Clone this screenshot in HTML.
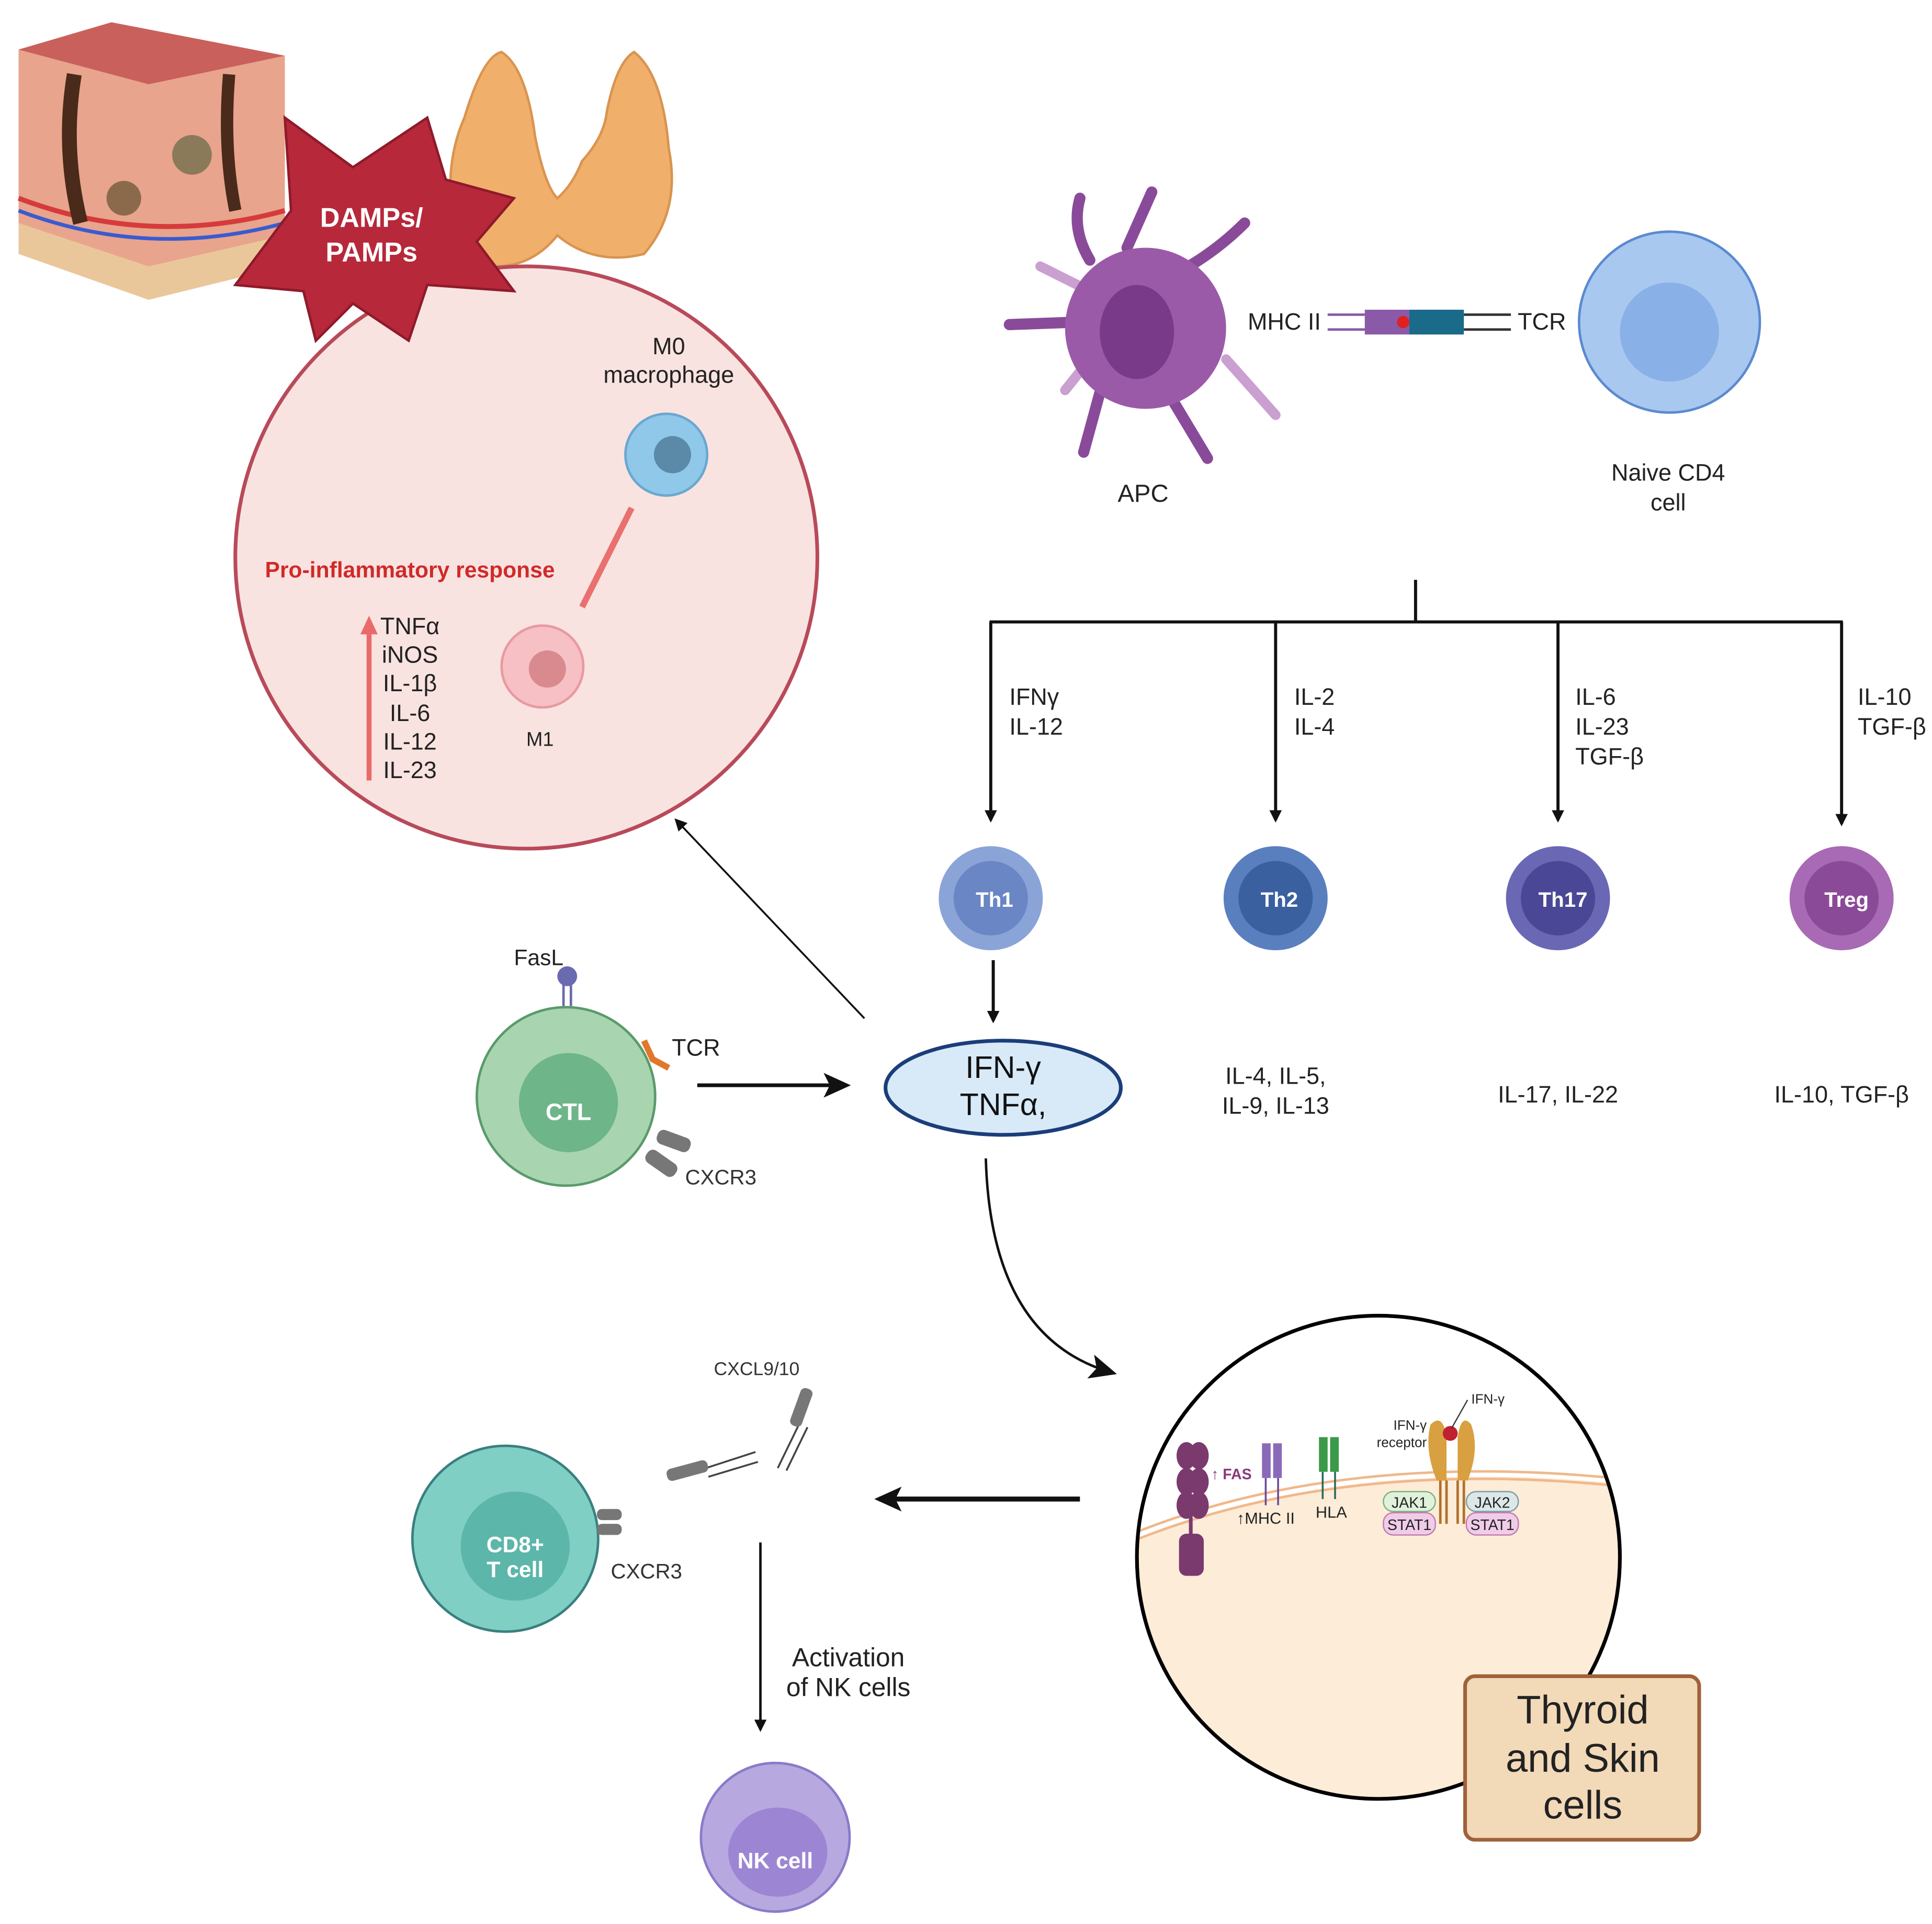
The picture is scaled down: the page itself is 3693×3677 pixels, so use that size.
<!DOCTYPE html>
<html><head><meta charset="utf-8"><style>
html,body{margin:0;padding:0;background:#fff}
svg{display:block}
text{font-family:"Liberation Sans",sans-serif}
</style></head><body>
<svg width="3693" height="3677" viewBox="0 0 1560 1553" preserveAspectRatio="none" xmlns="http://www.w3.org/2000/svg">
<defs>
<marker id="ah" markerWidth="10" markerHeight="10" refX="8" refY="5" orient="auto" markerUnits="userSpaceOnUse"><path d="M0,0 L10,5 L0,10 z" fill="#111"/></marker>
<marker id="ahb" markerWidth="22" markerHeight="20" refX="18" refY="10" orient="auto" markerUnits="userSpaceOnUse"><path d="M0,0 L22,10 L0,20 L5,10 z" fill="#111"/></marker>
<clipPath id="cc"><circle cx="1113" cy="1257" r="195"/></clipPath>
</defs>

<!-- skin block -->
<path d="M15,40 L90,18 L230,45 L230,215 L120,242 L15,205 z" fill="#eac79a"/>
<path d="M15,40 L90,18 L230,45 L230,190 L120,215 L15,180 z" fill="#e8a48d"/>
<path d="M15,40 L90,18 L230,45 L120,68 z" fill="#c9605c"/>
<path d="M15,160 Q120,200 230,170" stroke="#d63b3b" stroke-width="4" fill="none"/>
<path d="M15,170 Q120,210 230,180" stroke="#3a5bd0" stroke-width="3" fill="none"/>
<path d="M60,60 Q50,120 65,180" stroke="#4a2a1a" stroke-width="12" fill="none"/>
<path d="M185,60 Q180,120 190,170" stroke="#4a2a1a" stroke-width="10" fill="none"/>
<circle cx="100" cy="160" r="14" fill="#8a6a4a"/><circle cx="155" cy="125" r="16" fill="#8a7a5a"/>

<!-- thyroid -->
<path d="M370,200 Q355,140 375,95 Q390,45 405,42 Q425,55 432,110 Q440,150 450,160 Q462,150 470,130 Q488,110 490,90 Q498,50 512,42 Q535,60 540,120 Q550,170 520,205 Q480,215 450,190 Q430,215 400,215 Q380,212 370,200 z" fill="#f0b06c" stroke="#d99450" stroke-width="2"/>

<!-- big pink circle -->
<circle cx="425" cy="450" r="235" fill="#f9e3e0" stroke="#b84a5a" stroke-width="3"/>

<!-- star -->
<path d="M190,230 L235,170 L230,95 L285,135 L345,95 L360,145 L415,160 L385,195 L415,235 L345,230 L330,275 L285,245 L255,275 L245,235 z" fill="#b7283a" stroke="#8e1a2a" stroke-width="2"/>
<text x="300" y="183" font-size="22" font-weight="bold" fill="#fff" text-anchor="middle">DAMPs/</text>
<text x="300" y="211" font-size="22" font-weight="bold" fill="#fff" text-anchor="middle">PAMPs</text>

<text x="540" y="286" font-size="19" text-anchor="middle" fill="#222">M0</text>
<text x="540" y="309" font-size="19" text-anchor="middle" fill="#222">macrophage</text>
<circle cx="538" cy="367" r="33" fill="#8fc8e8" stroke="#6aa8d0" stroke-width="2"/>
<circle cx="543" cy="367" r="15" fill="#5a8aa8"/>
<line x1="510" y1="410" x2="470" y2="490" stroke="#e97070" stroke-width="5"/>
<circle cx="438" cy="538" r="33" fill="#f6c0c4" stroke="#e89aa0" stroke-width="2"/>
<circle cx="442" cy="540" r="15" fill="#d88a8e"/>
<text x="436" y="602" font-size="16" text-anchor="middle" fill="#222">M1</text>
<text x="331" y="466" font-size="18" font-weight="bold" text-anchor="middle" fill="#d02a2a">Pro-inflammatory response</text>
<line x1="298" y1="630" x2="298" y2="510" stroke="#e96a6a" stroke-width="4"/>
<path d="M291,512 L298,497 L305,512 z" fill="#e96a6a"/>
<g font-size="19" fill="#222" text-anchor="middle">
<text x="331" y="512">TNFα</text><text x="331" y="535">iNOS</text><text x="331" y="558">IL-1β</text>
<text x="331" y="582">IL-6</text><text x="331" y="605">IL-12</text><text x="331" y="628">IL-23</text>
</g>

<!-- APC -->
<g stroke="#8a4a9a" stroke-width="9" stroke-linecap="round" fill="none">
<path d="M880,210 Q865,185 872,160"/><path d="M910,200 L930,155"/><path d="M960,215 Q985,200 1005,180"/>
<path d="M870,260 L815,262"/><path d="M890,310 L875,365"/><path d="M945,320 L975,370"/>
</g>
<g stroke="#c9a0d0" stroke-width="8" stroke-linecap="round" fill="none">
<path d="M990,290 L1030,335"/><path d="M870,230 L840,215"/><path d="M880,290 L860,315"/>
</g>
<circle cx="925" cy="265" r="65" fill="#9a5aa8"/>
<ellipse cx="918" cy="268" rx="30" ry="38" fill="#7a3a8a"/>
<text x="923" y="405" font-size="20" text-anchor="middle" fill="#222">APC</text>
<text x="1037" y="266" font-size="19" text-anchor="middle" fill="#222">MHC II</text>
<line x1="1072" y1="254" x2="1102" y2="254" stroke="#8a5aa8" stroke-width="2"/>
<line x1="1072" y1="266" x2="1102" y2="266" stroke="#8a5aa8" stroke-width="2"/>
<rect x="1102" y="250" width="36" height="20" fill="#8a5aa8"/>
<rect x="1138" y="250" width="44" height="20" fill="#1a6a8a"/>
<circle cx="1133" cy="260" r="5" fill="#e02020"/>
<line x1="1182" y1="254" x2="1220" y2="254" stroke="#333" stroke-width="2"/>
<line x1="1182" y1="266" x2="1220" y2="266" stroke="#333" stroke-width="2"/>
<text x="1245" y="266" font-size="19" text-anchor="middle" fill="#222">TCR</text>
<circle cx="1348" cy="260" r="73" fill="#a9c8f0" stroke="#5a8ad0" stroke-width="2"/>
<circle cx="1348" cy="268" r="40" fill="#8ab0e8"/>
<text x="1347" y="388" font-size="19" text-anchor="middle" fill="#222">Naive CD4</text>
<text x="1347" y="412" font-size="19" text-anchor="middle" fill="#222">cell</text>

<!-- tree -->
<g stroke="#111" stroke-width="2.5" fill="none">
<line x1="1143" y1="468" x2="1143" y2="502"/>
<line x1="799" y1="502" x2="1488" y2="502"/>
<line x1="800" y1="502" x2="800" y2="662" marker-end="url(#ah)"/>
<line x1="1030" y1="502" x2="1030" y2="662" marker-end="url(#ah)"/>
<line x1="1258" y1="502" x2="1258" y2="662" marker-end="url(#ah)"/>
<line x1="1487" y1="502" x2="1487" y2="665" marker-end="url(#ah)"/>
<line x1="802" y1="775" x2="802" y2="824" marker-end="url(#ah)"/>
<line x1="698" y1="822" x2="546" y2="662" stroke-width="1.5" marker-end="url(#ah)"/>
</g>
<g font-size="19" fill="#222">
<text x="815" y="569">IFNγ</text><text x="815" y="593">IL-12</text>
<text x="1045" y="569">IL-2</text><text x="1045" y="593">IL-4</text>
<text x="1272" y="569">IL-6</text><text x="1272" y="593">IL-23</text><text x="1272" y="617">TGF-β</text>
<text x="1500" y="569">IL-10</text><text x="1500" y="593">TGF-β</text>
</g>
<circle cx="800" cy="725" r="42" fill="#8aa4d8"/><circle cx="800" cy="725" r="30" fill="#6a86c4"/>
<circle cx="1030" cy="725" r="42" fill="#5a7fbf"/><circle cx="1030" cy="725" r="30" fill="#3a60a0"/>
<circle cx="1258" cy="725" r="42" fill="#6a68b4"/><circle cx="1258" cy="725" r="30" fill="#4a4896"/>
<circle cx="1487" cy="725" r="42" fill="#a86ab4"/><circle cx="1487" cy="725" r="30" fill="#8a4a98"/>
<g font-size="17" font-weight="bold" fill="#fff" text-anchor="middle">
<text x="803" y="732">Th1</text><text x="1033" y="732">Th2</text><text x="1262" y="732">Th17</text><text x="1491" y="732">Treg</text>
</g>
<ellipse cx="810" cy="878" rx="95" ry="38" fill="#d8eaf8" stroke="#1b3d7a" stroke-width="3"/>
<text x="810" y="870" font-size="25" text-anchor="middle" fill="#111">IFN-γ</text>
<text x="810" y="900" font-size="25" text-anchor="middle" fill="#111">TNFα,</text>
<g font-size="19" fill="#222" text-anchor="middle">
<text x="1030" y="875">IL-4, IL-5,</text><text x="1030" y="899">IL-9, IL-13</text>
<text x="1258" y="890">IL-17, IL-22</text><text x="1487" y="890">IL-10, TGF-β</text>
</g>

<!-- CTL -->
<line x1="455" y1="812" x2="455" y2="790" stroke="#6a6ab0" stroke-width="2"/>
<line x1="461" y1="812" x2="461" y2="790" stroke="#6a6ab0" stroke-width="2"/>
<circle cx="458" cy="788" r="8" fill="#6a6ab0"/>
<text x="435" y="779" font-size="18" text-anchor="middle" fill="#222">FasL</text>
<circle cx="457" cy="885" r="72" fill="#a8d5b0" stroke="#5a9a6a" stroke-width="2"/>
<circle cx="459" cy="890" r="40" fill="#6fb58a"/>
<text x="459" y="904" font-size="19" font-weight="bold" fill="#fff" text-anchor="middle">CTL</text>
<path d="M520,840 L527,855 L540,862" stroke="#e0782a" stroke-width="5" fill="none"/>
<text x="562" y="852" font-size="19" text-anchor="middle" fill="#222">TCR</text>
<rect x="530" y="915" width="28" height="12" rx="5" fill="#777" transform="rotate(20 544 921)"/>
<rect x="520" y="933" width="28" height="12" rx="5" fill="#777" transform="rotate(35 534 939)"/>
<text x="582" y="956" font-size="17" text-anchor="middle" fill="#333">CXCR3</text>
<line x1="563" y1="876" x2="683" y2="876" stroke="#111" stroke-width="3" marker-end="url(#ahb)"/>
<path d="M796,935 Q800,1080 898,1108" stroke="#111" stroke-width="2" fill="none" marker-end="url(#ahb)"/>

<!-- thyroid/skin cell -->
<circle cx="1113" cy="1257" r="195" fill="#fff"/>
<g clip-path="url(#cc)">
<path d="M900,1250 Q1080,1170 1330,1200 L1330,1470 L900,1470 z" fill="#fcecd8"/>
<path d="M900,1244 Q1080,1166 1330,1196" stroke="#f0b88a" stroke-width="2" fill="none"/>
<path d="M900,1250 Q1080,1172 1330,1202" stroke="#f0b88a" stroke-width="2" fill="none"/>
</g>
<circle cx="1113" cy="1257" r="195" fill="none" stroke="#000" stroke-width="3"/>
<g fill="#7a3a6e">
<ellipse cx="958" cy="1175" rx="8" ry="11"/><ellipse cx="968" cy="1175" rx="8" ry="11"/>
<ellipse cx="958" cy="1196" rx="8" ry="11"/><ellipse cx="968" cy="1196" rx="8" ry="11"/>
<ellipse cx="958" cy="1215" rx="8" ry="11"/><ellipse cx="968" cy="1215" rx="8" ry="11"/>
<rect x="952" y="1238" width="20" height="34" rx="6"/>
<rect x="960" y="1222" width="3" height="20"/>
</g>
<text x="978" y="1194" font-size="12" font-weight="bold" fill="#8a3a7a">↑ FAS</text>
<rect x="1019" y="1165" width="7" height="28" fill="#8a6ab8"/><rect x="1028" y="1165" width="7" height="28" fill="#8a6ab8"/>
<line x1="1022" y1="1193" x2="1022" y2="1215" stroke="#6a4a9a" stroke-width="1.5"/><line x1="1032" y1="1193" x2="1032" y2="1215" stroke="#6a4a9a" stroke-width="1.5"/>
<text x="1022" y="1230" font-size="13" text-anchor="middle" fill="#222">↑MHC II</text>
<rect x="1065" y="1160" width="7" height="28" fill="#3a9a4a"/><rect x="1074" y="1160" width="7" height="28" fill="#3a9a4a"/>
<line x1="1068" y1="1188" x2="1068" y2="1210" stroke="#2a6a5a" stroke-width="1.5"/><line x1="1078" y1="1188" x2="1078" y2="1210" stroke="#2a6a5a" stroke-width="1.5"/>
<text x="1075" y="1225" font-size="13" text-anchor="middle" fill="#222">HLA</text>
<g fill="#d8a040"><path d="M1155,1150 Q1165,1140 1168,1160 L1168,1195 L1160,1195 Q1150,1170 1155,1150 z"/><path d="M1188,1150 Q1180,1140 1177,1160 L1177,1195 L1185,1195 Q1195,1170 1188,1150 z"/></g>
<g stroke="#b0702a" stroke-width="2"><line x1="1163" y1="1195" x2="1163" y2="1230"/><line x1="1168" y1="1195" x2="1168" y2="1230"/><line x1="1177" y1="1195" x2="1177" y2="1230"/><line x1="1182" y1="1195" x2="1182" y2="1230"/></g>
<circle cx="1171" cy="1157" r="6" fill="#c02030"/>
<line x1="1172" y1="1153" x2="1185" y2="1130" stroke="#333" stroke-width="1"/>
<text x="1188" y="1133" font-size="11" fill="#222">IFN-γ</text>
<text x="1152" y="1154" font-size="11" text-anchor="end" fill="#222">IFN-γ</text>
<text x="1152" y="1168" font-size="11" text-anchor="end" fill="#222">receptor</text>
<rect x="1117" y="1204" width="42" height="16" rx="8" fill="#e0f2dc" stroke="#7ab07a"/>
<rect x="1117" y="1221" width="42" height="18" rx="8" fill="#f0cce8" stroke="#c07ab0"/>
<rect x="1184" y="1204" width="42" height="16" rx="8" fill="#dce8e8" stroke="#7a9aa0"/>
<rect x="1184" y="1221" width="42" height="18" rx="8" fill="#f0cce8" stroke="#c07ab0"/>
<g font-size="12" text-anchor="middle" fill="#222"><text x="1138" y="1217">JAK1</text><text x="1138" y="1235">STAT1</text><text x="1205" y="1217">JAK2</text><text x="1205" y="1235">STAT1</text></g>
<rect x="1183" y="1353" width="189" height="132" rx="8" fill="#f2d9b8" stroke="#a0613a" stroke-width="3"/>
<g font-size="32" text-anchor="middle" fill="#222"><text x="1278" y="1391">Thyroid</text><text x="1278" y="1430">and Skin</text><text x="1278" y="1468">cells</text></g>

<line x1="872" y1="1210" x2="710" y2="1210" stroke="#111" stroke-width="4" marker-end="url(#ahb)"/>

<!-- CD8 -->
<circle cx="408" cy="1242" r="75" fill="#7fcfc4" stroke="#3a7f80" stroke-width="2"/>
<circle cx="416" cy="1248" r="44" fill="#5db6aa"/>
<text x="416" y="1253" font-size="18" font-weight="bold" fill="#fff" text-anchor="middle">CD8+</text>
<text x="416" y="1273" font-size="18" font-weight="bold" fill="#fff" text-anchor="middle">T cell</text>
<rect x="482" y="1218" width="20" height="9" rx="4" fill="#777"/><rect x="482" y="1230" width="20" height="9" rx="4" fill="#777"/>
<text x="522" y="1274" font-size="17" text-anchor="middle" fill="#333">CXCR3</text>
<text x="611" y="1110" font-size="15" text-anchor="middle" fill="#333">CXCL9/10</text>
<g stroke="#444" stroke-width="1.5"><line x1="570" y1="1185" x2="610" y2="1172"/><line x1="572" y1="1192" x2="612" y2="1180"/><line x1="628" y1="1185" x2="645" y2="1150"/><line x1="635" y1="1187" x2="652" y2="1152"/></g>
<rect x="538" y="1182" width="34" height="10" rx="4" fill="#777" transform="rotate(-15 555 1187)"/>
<rect x="642" y="1120" width="10" height="32" rx="4" fill="#777" transform="rotate(20 647 1136)"/>
<line x1="614" y1="1245" x2="614" y2="1396" stroke="#111" stroke-width="2" marker-end="url(#ah)"/>
<text x="685" y="1345" font-size="21" text-anchor="middle" fill="#222">Activation</text>
<text x="685" y="1369" font-size="21" text-anchor="middle" fill="#222">of NK cells</text>
<circle cx="626" cy="1483" r="60" fill="#b7a9e0" stroke="#8a7ac8" stroke-width="2"/>
<ellipse cx="628" cy="1495" rx="40" ry="36" fill="#9c86d3"/>
<text x="626" y="1508" font-size="18" font-weight="bold" fill="#fff" text-anchor="middle">NK cell</text>
</svg>
</body></html>
